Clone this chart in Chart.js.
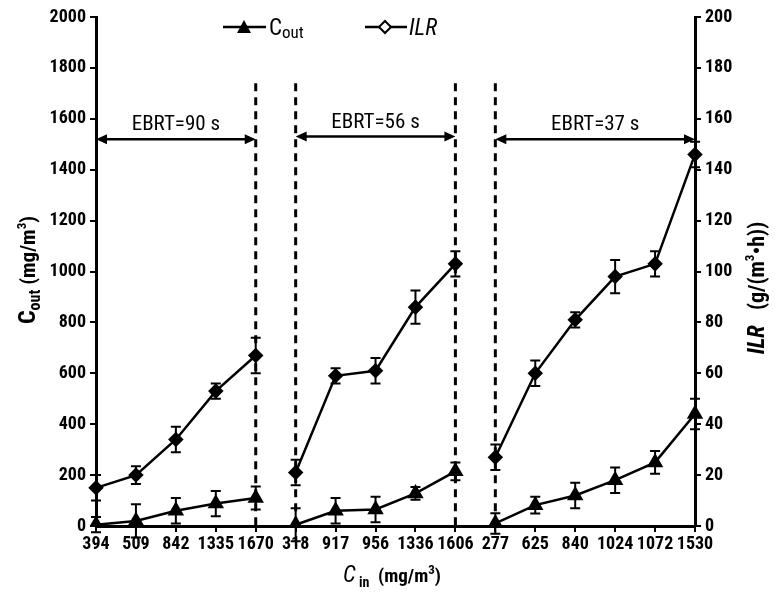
<!DOCTYPE html>
<html>
<head>
<meta charset="utf-8">
<script src="https://cdn.jsdelivr.net/npm/chart.js@4.4.1/dist/chart.umd.min.js"></script>
<style>
  html, body { margin: 0; padding: 0; background: #fff; }
  #wrap { width: 775px; height: 607px; position: relative; }
</style>
</head>
<body>
<div id="wrap"><canvas id="chart"></canvas></div>
<script>
const cinLabels = ['394', '509', '842', '1335', '1670', '318', '917', '956', '1336', '1606', '277', '625', '840', '1024', '1072', '1530'];
const coutValues = [5, 20, 60, 88, 110, 5, 60, 65, 128, 215, 10, 82, 120, 180, 250, 440];
const coutErrors = [30, 65, 50, 50, 45, 65, 50, 50, 25, 35, 40, 33, 50, 50, 45, 60];
const ilrValues = [15, 20, 34, 53, 67, 21, 59, 61, 86, 103, 27, 60, 81, 98, 103, 146];
const ilrErrors = [5, 3.5, 5, 3, 7, 5, 3, 5, 6.5, 5, 5, 5, 3, 6.5, 5, 5];

const groupStarts = [0, 5, 10];
const groupEnds = [4, 9, 15];
const groupLabels = ['EBRT=90 s', 'EBRT=56 s', 'EBRT=37 s'];
const arrowLevels = [1520, 1530, 1520];
const dividerTop = 1740;

const FONT = '"Roboto Condensed", "Open Sans Condensed", sans-serif';

// hide the line between groups
const breakSegment = ctx => groupEnds.includes(ctx.p0DataIndex) ? 'rgba(0,0,0,0)' : undefined;

function drawParts(ctx, parts, x, y) {
  let total = 0;
  parts.forEach(p => { ctx.font = p.font; p.w = ctx.measureText(p.t).width; total += p.w; });
  let cx = x - total / 2;
  parts.forEach(p => {
    ctx.font = p.font;
    ctx.fillText(p.t, cx, y + (p.dy || 0));
    cx += p.w;
  });
}

const errorBars = {
  id: 'errorBars',
  afterDatasetsDraw(chart) {
    const ctx = chart.ctx;
    const xs = chart.scales.x;
    ctx.save();
    ctx.strokeStyle = '#000';
    ctx.lineWidth = 2;
    chart.data.datasets.forEach(ds => {
      const ys = chart.scales[ds.yAxisID];
      ds.data.forEach((v, i) => {
        const x = xs.getPixelForValue(i);
        const top = ys.getPixelForValue(v + ds.errors[i]);
        const bot = ys.getPixelForValue(v - ds.errors[i]);
        ctx.beginPath();
        ctx.moveTo(x, top); ctx.lineTo(x, bot);
        ctx.moveTo(x - 5, top); ctx.lineTo(x + 5, top);
        ctx.moveTo(x - 5, bot); ctx.lineTo(x + 5, bot);
        ctx.stroke();
      });
    });
    ctx.restore();
  }
};

const annotations = {
  id: 'annotations',
  beforeDatasetsDraw(chart) {
    const ctx = chart.ctx;
    const xs = chart.scales.x, ys = chart.scales.y;
    ctx.save();
    ctx.strokeStyle = '#000';
    ctx.fillStyle = '#000';
    // dashed dividers
    ctx.lineWidth = 3;
    ctx.setLineDash([8, 6]);
    [4, 5, 9, 10].forEach(i => {
      const x = xs.getPixelForValue(i);
      ctx.beginPath();
      ctx.moveTo(x, ys.getPixelForValue(dividerTop));
      ctx.lineTo(x, ys.getPixelForValue(0));
      ctx.stroke();
    });
    ctx.setLineDash([]);
    // arrows + labels
    groupStarts.forEach((s, g) => {
      const x1 = xs.getPixelForValue(s), x2 = xs.getPixelForValue(groupEnds[g]);
      const y = ys.getPixelForValue(arrowLevels[g]);
      ctx.lineWidth = 2.5;
      ctx.beginPath();
      ctx.moveTo(x1 + 6, y); ctx.lineTo(x2 - 6, y);
      ctx.stroke();
      ctx.beginPath();
      ctx.moveTo(x1, y); ctx.lineTo(x1 + 11, y - 5); ctx.lineTo(x1 + 11, y + 5); ctx.closePath();
      ctx.moveTo(x2, y); ctx.lineTo(x2 - 11, y - 5); ctx.lineTo(x2 - 11, y + 5); ctx.closePath();
      ctx.fill();
      ctx.font = '21px ' + FONT;
      ctx.textAlign = 'center';
      ctx.textBaseline = 'alphabetic';
      ctx.fillText(groupLabels[g], (x1 + x2) / 2, y - 9);
    });
    ctx.restore();
  },
  afterDraw(chart) {
    const ctx = chart.ctx;
    ctx.save();
    ctx.fillStyle = '#000';
    ctx.strokeStyle = '#000';
    ctx.textAlign = 'left';
    ctx.textBaseline = 'alphabetic';
    const sup = 'bold 13px ' + FONT;

    // legend
    ctx.lineWidth = 2.5;
    ctx.beginPath(); ctx.moveTo(223, 27); ctx.lineTo(266, 27); ctx.stroke();
    ctx.beginPath(); ctx.moveTo(244, 20); ctx.lineTo(251, 33); ctx.lineTo(237, 33); ctx.closePath(); ctx.fill();
    ctx.font = '23px ' + FONT;
    ctx.fillText('C', 269, 35);
    ctx.font = '17px ' + FONT;
    ctx.fillText('out', 282, 38);
    ctx.beginPath(); ctx.moveTo(365, 27); ctx.lineTo(407, 27); ctx.stroke();
    ctx.fillStyle = '#fff';
    ctx.lineWidth = 2;
    ctx.beginPath(); ctx.moveTo(385, 21); ctx.lineTo(391, 27); ctx.lineTo(385, 33); ctx.lineTo(379, 27); ctx.closePath();
    ctx.fill(); ctx.stroke();
    ctx.fillStyle = '#000';
    ctx.font = 'italic 23px ' + FONT;
    ctx.fillText('ILR', 409, 35);

    // left title
    ctx.save();
    ctx.translate(35, 270);
    ctx.rotate(-Math.PI / 2);
    drawParts(ctx, [
      { t: 'C', font: 'bold 24px ' + FONT }, { t: 'out', font: 'bold 16px ' + FONT, dy: 5 },
      { t: ' (mg/m', font: 'bold 21px ' + FONT }, { t: '3', font: sup, dy: -9 }, { t: ')', font: 'bold 21px ' + FONT }
    ], 0, 0);
    ctx.restore();

    // right title
    ctx.save();
    ctx.translate(764, 288);
    ctx.rotate(-Math.PI / 2);
    drawParts(ctx, [
      { t: 'ILR', font: 'italic bold 23px ' + FONT },
      { t: '   (g/(m', font: 'bold 22px ' + FONT }, { t: '3', font: sup, dy: -10 }, { t: '•h))', font: 'bold 22px ' + FONT }
    ], 0, 0);
    ctx.restore();

    // bottom title
    drawParts(ctx, [
      { t: 'C', font: 'italic 23px ' + FONT }, { t: ' in', font: 'bold 14px ' + FONT, dy: 5 },
      { t: '  (mg/m', font: 'bold 19px ' + FONT }, { t: '3', font: sup, dy: -8 }, { t: ')', font: 'bold 19px ' + FONT }
    ], 392, 582);
    ctx.restore();
  }
};

const axisStyle = {
  grid: { display: true, drawOnChartArea: false, drawTicks: true, tickLength: 6, color: '#000', lineWidth: 2 },
  border: { display: true, color: '#000', width: 3 },
  ticks: { color: '#000', font: { family: FONT, size: 18, weight: 'bold' }, padding: 4 }
};

new Chart(document.getElementById('chart'), {
  type: 'line',
  data: {
    labels: cinLabels,
    datasets: [
      {
        label: 'Cout', data: coutValues, errors: coutErrors, yAxisID: 'y',
        borderColor: '#000', borderWidth: 2.5, pointStyle: 'triangle', pointRadius: 7,
        pointBackgroundColor: '#000', pointBorderColor: '#000', tension: 0,
        segment: { borderColor: breakSegment }
      },
      {
        label: 'ILR', data: ilrValues, errors: ilrErrors, yAxisID: 'y2',
        borderColor: '#000', borderWidth: 2.5, pointStyle: 'rectRot', pointRadius: 6,
        pointBackgroundColor: '#000', pointBorderColor: '#000', tension: 0,
        segment: { borderColor: breakSegment }
      }
    ]
  },
  options: {
    responsive: true,
    maintainAspectRatio: false,
    animation: false,
    layout: { padding: { top: 17, left: 0, right: 0, bottom: 0 } },
    plugins: { legend: { display: false }, tooltip: { enabled: false } },
    scales: {
      x: {
        ...axisStyle,
        offset: false,
        ticks: { ...axisStyle.ticks, maxRotation: 0, autoSkip: false, padding: 2 },
        afterFit: s => { s.height = 81; }
      },
      y: {
        ...axisStyle,
        position: 'left', min: 0, max: 2000,
        ticks: { ...axisStyle.ticks, stepSize: 200, callback: v => String(v) },
        afterFit: s => { s.width = 96; }
      },
      y2: {
        ...axisStyle,
        position: 'right', min: 0, max: 200,
        ticks: { ...axisStyle.ticks, stepSize: 20, callback: v => String(v) },
        afterFit: s => { s.width = 80; }
      }
    }
  },
  plugins: [annotations, errorBars]
});
</script>
</body>
</html>
